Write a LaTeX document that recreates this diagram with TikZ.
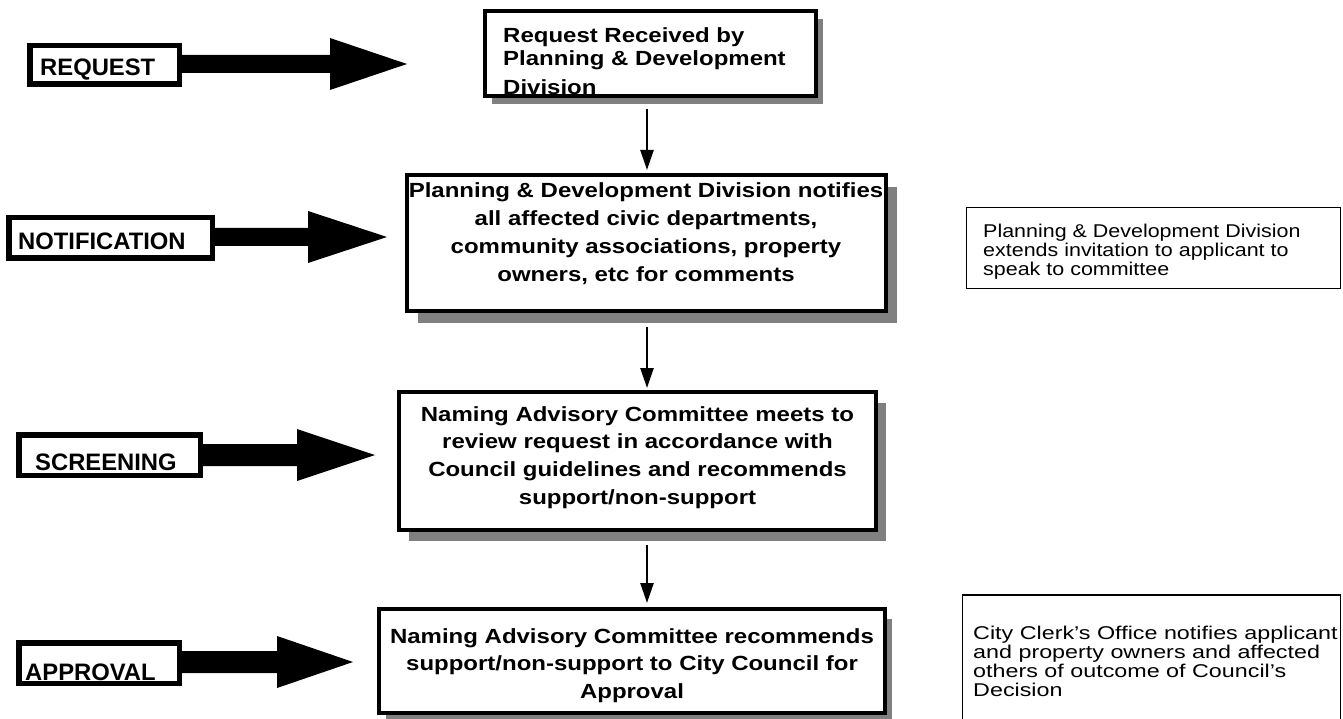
\documentclass[tikz,border=0pt]{standalone}
\usepackage{fontspec}
\setmainfont{Liberation Sans}
\newfontfamily\boxfont[FakeStretch=1.17]{Liberation Sans}
\newfontfamily\noteAfont[FakeStretch=1.16]{Liberation Sans}
\newfontfamily\noteBfont[FakeStretch=1.26]{Liberation Sans}
\usetikzlibrary{arrows.meta,calc,shadows}
\definecolor{shadegray}{HTML}{808080}

\tikzset{
  mainbox/.style={draw, line width=4pt, fill=white, inner sep=0pt},
  labelbox/.style={draw, line width=5.5pt, fill=white, inner sep=0pt},
  notebox/.style={draw, line width=1.2pt, inner sep=0pt},
  boxtext/.style={inner sep=0pt, font=\boxfont\bfseries\fontsize{20.5}{#1}\selectfont},
  labeltext/.style={inner sep=0pt, anchor=base west, font=\bfseries\fontsize{23.8}{28}\selectfont},
  notetextA/.style={inner sep=0pt, anchor=north west, align=left, font=\noteAfont\fontsize{18.5}{19.2}\selectfont},
  notetextB/.style={inner sep=0pt, anchor=north west, align=left, font=\noteBfont\fontsize{18.5}{19}\selectfont},
  vflow/.style={line width=2.5pt, -{Triangle[length=20pt,width=13pt]}},
  boxshadow/.style 2 args={drop shadow={shadow xshift=#1pt, shadow yshift=-#2pt, fill=shadegray, opacity=1}}
}

\newcommand{\fatarrow}[4]{%
  \fill let \p1=(#1.east), \p2=(#2) in
    (\x1,\y2+#3) -- (\x2-#4,\y2+#3) -- (\x2-#4,\y2+26pt) -- (\p2)
    -- (\x2-#4,\y2-26pt) -- (\x2-#4,\y2-#3) -- (\x1,\y2-#3) -- cycle;}

\begin{document}
\begin{tikzpicture}[x=1pt,y=-1pt]
\useasboundingbox (0,0) rectangle (1343,719);

% main process boxes
\node[mainbox, boxshadow={7}{8}, minimum width=331pt, minimum height=85pt] (b1) at (650.5,53.5) {};
\node[mainbox, boxshadow={11}{12}, minimum width=479pt, minimum height=136pt] (b2) at (646.5,243) {};
\node[mainbox, boxshadow={10}{11}, minimum width=477pt, minimum height=138pt] (b3) at (637.5,461) {};
\node[mainbox, boxshadow={7}{10}, minimum width=506pt, minimum height=104pt] (b4) at (632,661) {};

\node[boxtext=23.5, anchor=north west, align=left] (t1) at (503,27)
  {Request Received by\\Planning \& Development\\[5.5pt]Division};
\node[boxtext=28.3, anchor=north, align=center] (t2) at (646,182)
  {Planning \& Development Division notifies\\all affected civic departments,\\community associations, property\\owners, etc for comments};
\node[boxtext=27.7, anchor=north, align=center] (t3) at (637.5,406)
  {Naming Advisory Committee meets to\\review request in accordance with\\Council guidelines and recommends\\support/non-support};
\node[boxtext=27.5, anchor=north, align=center] (t4) at (632,628)
  {Naming Advisory Committee recommends\\support/non-support to City Council for\\Approval};

% vertical connectors
\coordinate (ax) at (647,0);
\draw[vflow, shorten <=11pt, shorten >=3pt] (b1.south -| ax) -- (b2.north -| ax);
\draw[vflow, shorten <=14pt, shorten >=2pt] (b2.south -| ax) -- (b3.north -| ax);
\draw[vflow, shorten <=13pt, shorten >=4pt] (b3.south -| ax) -- (b4.north -| ax);

% stage labels
\node[labelbox, minimum width=149.5pt, minimum height=38.5pt] (l1) at (104.5,65) {};
\node[labelbox, minimum width=203.5pt, minimum height=40.5pt] (l2) at (110.5,238) {};
\node[labelbox, minimum width=181.5pt, minimum height=40.5pt] (l3) at (109.5,455) {};
\node[labelbox, minimum width=160.5pt, minimum height=40.5pt] (l4) at (99,663) {};

\node[labeltext] (lt1) at (40,76) {REQUEST};
\node[labeltext] (lt2) at (18,250) {NOTIFICATION};
\node[labeltext] (lt3) at (35,470) {SCREENING};
\node[labeltext] (lt4) at (25,680) {APPROVAL};

% fat arrows
\coordinate (p1) at (407,64);
\coordinate (p2) at (387,237);
\coordinate (p3) at (375,455);
\coordinate (p4) at (353,662);
\fatarrow{l1}{p1}{9pt}{77pt}
\fatarrow{l2}{p2}{9pt}{79pt}
\fatarrow{l3}{p3}{11pt}{78pt}
\fatarrow{l4}{p4}{11pt}{76pt}

% side notes
\node[notebox, minimum width=374pt, minimum height=81pt] (r1) at (1153.5,248) {};
\node[notetextA] (rt1) at (983,223.7)
  {Planning \& Development Division\\extends invitation to applicant to\\speak to committee};
\node[notebox, minimum width=378pt, minimum height=145pt] (r2) at (1151.5,667.5) {};
\node[notetextB] (rt2) at (973,625.7)
  {City Clerk’s Office notifies applicant\\and property owners and affected\\others of outcome of Council’s\\Decision};
\end{tikzpicture}
\end{document}
